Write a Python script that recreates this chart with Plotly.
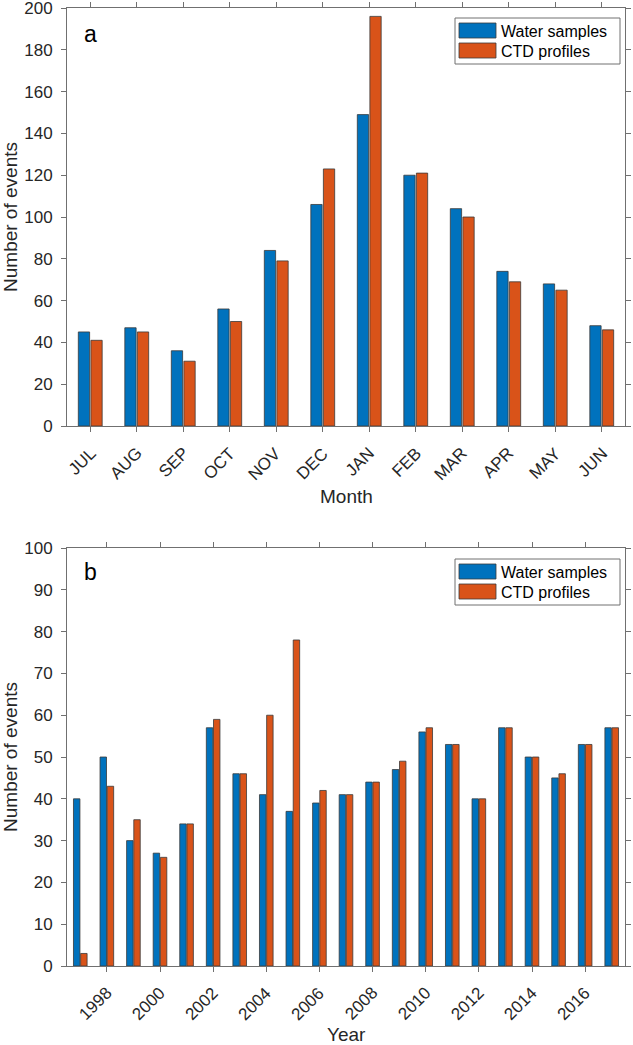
import plotly.graph_objects as go

months = ["JUL", "AUG", "SEP", "OCT", "NOV", "DEC", "JAN", "FEB", "MAR", "APR", "MAY", "JUN"]
water_month = [45, 47, 36, 56, 84, 106, 149, 120, 104, 74, 68, 48]
ctd_month = [41, 45, 31, 50, 79, 123, 196, 121, 100, 69, 65, 46]

years = list(range(1997, 2018))
water_year = [40, 50, 30, 27, 34, 57, 46, 41, 37, 39, 41, 44, 47, 56, 53, 40, 57, 50, 45, 53, 57]
ctd_year = [3, 43, 35, 26, 34, 59, 46, 60, 78, 42, 41, 44, 49, 57, 53, 40, 57, 50, 46, 53, 57]
year_ticks = list(range(1998, 2017, 2))
series_names = ["Water samples", "CTD profiles"]

BLUE = "#0072BD"
ORANGE = "#D95319"
EDGE = "#3a3a3a"
AX = "#707070"
TXT = "#262626"
FONT = "Liberation Sans, Arial, Helvetica, sans-serif"

W, H = 633, 1045
def px_x(a, b):
    return [a / W, b / W]
def px_y(top, bot):
    return [1 - bot / H, 1 - top / H]
def PX(x):
    return x / W
def PY(y):
    return 1 - y / H

TOP1, BOT1 = 8, 426
TOP2, BOT2 = 548, 966

fig = go.Figure()
for xs, ys, ax, ay in [(months, water_month, "x", "y"), (years, water_year, "x2", "y2")]:
    fig.add_trace(go.Bar(x=xs, y=ys, name=series_names[0], showlegend=False,
                         marker=dict(color=BLUE, line=dict(color=EDGE, width=0.8)), xaxis=ax, yaxis=ay))
for xs, ys, ax, ay in [(months, ctd_month, "x", "y"), (years, ctd_year, "x2", "y2")]:
    fig.add_trace(go.Bar(x=xs, y=ys, name=series_names[1], showlegend=False,
                         marker=dict(color=ORANGE, line=dict(color=EDGE, width=0.8)), xaxis=ax, yaxis=ay))

TITLEF = dict(family=FONT, size=19, color=TXT)
TICKF = dict(family=FONT, size=17, color=TXT)
axcommon = dict(showline=True, linecolor=AX, linewidth=1, mirror="ticks", ticks="outside",
                ticklen=5, tickcolor=AX, showgrid=False, zeroline=False, ticklabeloverflow="allow",
                tickfont=TICKF, automargin=False)

dx = px_x(67, 625)
fig.update_layout(
    width=W, height=H, margin=dict(l=0, r=0, t=0, b=0),
    paper_bgcolor="white", plot_bgcolor="white",
    barmode="group", bargap=0.46, bargroupgap=0.1,
    font=dict(family=FONT, color=TXT),
    xaxis=dict(domain=dx, anchor="y", range=[-0.5, 11.5], showticklabels=False, **axcommon),
    yaxis=dict(domain=px_y(TOP1, BOT1), anchor="x", range=[0, 200.01], tickvals=list(range(0, 201, 20)),
               ticklabelstandoff=5,
               title=dict(text="Number of events", font=TITLEF, standoff=6), **axcommon),
    xaxis2=dict(domain=dx, anchor="y2", range=[1996.5, 2017.5], tickvals=year_ticks,
                showticklabels=False, **axcommon),
    yaxis2=dict(domain=px_y(TOP2, BOT2), anchor="x2", range=[0, 100.01], tickvals=list(range(0, 101, 10)),
                ticklabelstandoff=5,
                title=dict(text="Number of events", font=TITLEF, standoff=6), **axcommon),
)

annotations = [
    dict(text="a", x=PX(82), y=PY(TOP1 + 26), xref="paper", yref="paper", showarrow=False,
         xanchor="left", yanchor="middle", font=dict(family=FONT, size=23, color="black")),
    dict(text="b", x=PX(82), y=PY(TOP2 + 24), xref="paper", yref="paper", showarrow=False,
         xanchor="left", yanchor="middle", font=dict(family=FONT, size=23, color="black")),
    dict(text="Month", x=PX(346), y=PY(BOT1 + 70), xref="paper", yref="paper", showarrow=False,
         xanchor="center", yanchor="middle", font=TITLEF),
    dict(text="Year", x=PX(346), y=PY(BOT2 + 68), xref="paper", yref="paper", showarrow=False,
         xanchor="center", yanchor="middle", font=TITLEF),
]
# rotated tick labels
for m in months:
    annotations.append(dict(text=m, x=m, y=PY(BOT1 + 15), xref="x", yref="paper", textangle=-45,
                            showarrow=False, xanchor="right", yanchor="top", xshift=12, font=TICKF))
for yv in year_ticks:
    annotations.append(dict(text=str(yv), x=yv, y=PY(BOT2 + 15), xref="x2", yref="paper", textangle=-45,
                            showarrow=False, xanchor="right", yanchor="top", xshift=12, font=TICKF))

shapes = []
for top in (TOP1 + 10, TOP2 + 11):
    shapes.append(dict(type="rect", xref="paper", yref="paper", x0=PX(455), x1=PX(620),
                       y0=PY(top), y1=PY(top + 46), line=dict(color=AX, width=1), fillcolor="white"))
    for i, (name, col) in enumerate(zip(series_names, [BLUE, ORANGE])):
        y0 = top + 5 + i * 20
        shapes.append(dict(type="rect", xref="paper", yref="paper", x0=PX(459), x1=PX(496),
                           y0=PY(y0), y1=PY(y0 + 15), line=dict(color=EDGE, width=0.8), fillcolor=col))
        annotations.append(dict(text=name, x=PX(499), y=PY(y0 + 8), xref="paper", yref="paper",
                                showarrow=False, xanchor="left", yanchor="middle",
                                font=dict(family=FONT, size=16, color="black")))
fig.update_layout(annotations=annotations, shapes=shapes)

fig.write_html("out.html", post_script="document.body.style.margin='0px';",
               config={"displayModeBar": False})
